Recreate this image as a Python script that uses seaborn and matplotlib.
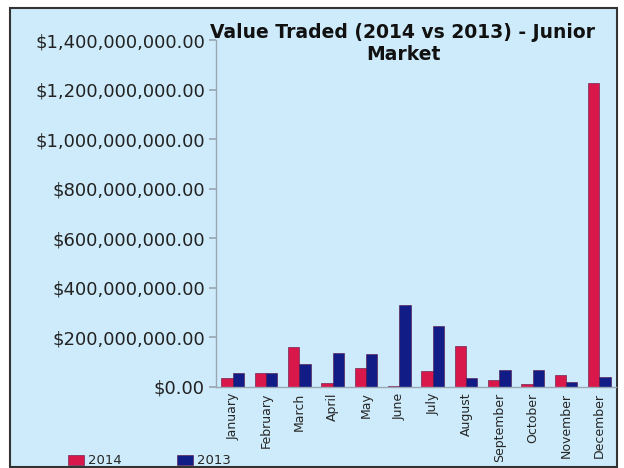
import numpy as np
import pandas as pd
import matplotlib
matplotlib.use("Agg")
import matplotlib.pyplot as plt
import seaborn as sns
from matplotlib.patches import Rectangle
from matplotlib.ticker import FuncFormatter

# monthly value traded, junior market (in dollars)
months = ["January", "February", "March", "April", "May", "June", "July",
          "August", "September", "October", "November", "December"]
value_2014 = [36e6, 56e6, 160e6, 15e6, 76e6, 5e6, 64e6, 164e6, 30e6, 12e6, 48e6, 1225e6]
value_2013 = [56e6, 56e6, 92e6, 136e6, 132e6, 330e6, 248e6, 36e6, 68e6, 68e6, 20e6, 40e6]
years = ["2014", "2013"]
y_ticks = [0, 200e6, 400e6, 600e6, 800e6, 1000e6, 1200e6, 1400e6]

df = pd.DataFrame({
    "month": months * 2,
    "year": [years[0]] * len(months) + [years[1]] * len(months),
    "value": value_2014 + value_2013,
})

bg = "#CDEBFA"
palette = {"2014": "#D8174A", "2013": "#111C86"}

sns.set_theme(style="white")
plt.rcParams["font.family"] = ["DejaVu Sans"]

fig = plt.figure(figsize=(6.24, 4.68), dpi=100)
fig.patch.set_facecolor("white")
# chart frame
fig.patches.append(Rectangle((10 / 624, 1 - 467 / 468), 607 / 624, 459 / 468,
                             transform=fig.transFigure, facecolor=bg,
                             edgecolor="#333333", linewidth=1.5, zorder=-10))

ax = fig.add_axes([216 / 624, 1 - 387 / 468, 400 / 624, 347 / 468])
ax.set_zorder(1)
ax.set_facecolor(bg)
sns.barplot(data=df, x="month", y="value", hue="year", hue_order=years,
            palette=palette, width=0.68, saturation=1, ax=ax,
            edgecolor="#5a1040", linewidth=0.4)

ax.set_ylim(0, 1400e6)
ax.set_yticks(y_ticks)
ax.yaxis.set_major_formatter(FuncFormatter(lambda v, p: f"${v:,.2f}"))
ax.tick_params(axis="y", labelsize=13, colors="#222222", length=5,
               direction="out", left=True, color="#9aa8b4", pad=3)
ax.tick_params(axis="x", labelsize=9, rotation=90, length=0, pad=4)
for lbl in ax.get_yticklabels():
    lbl.set_color("#222222")
ax.set_xlabel("")
ax.set_ylabel("")
for s in ["top", "right"]:
    ax.spines[s].set_visible(False)
for s in ["left", "bottom"]:
    ax.spines[s].set_color("#9aa8b4")
    ax.spines[s].set_linewidth(1)

handles, labels = ax.get_legend_handles_labels()
ax.get_legend().remove()
fig.legend(handles, labels, loc="center left", ncol=2, frameon=False,
           bbox_to_anchor=(56 / 624, 1 - 461 / 468), fontsize=9.5,
           handlelength=1.2, handleheight=0.7, handletextpad=0.3,
           columnspacing=4.2)

fig.text(403 / 624, 1 - 23 / 468, "Value Traded (2014 vs 2013) - Junior\nMarket",
         ha="center", va="top", fontsize=13.5, fontweight="bold",
         linespacing=1.2, color="#111111")

fig.savefig("out.png", dpi=100, facecolor="white")
